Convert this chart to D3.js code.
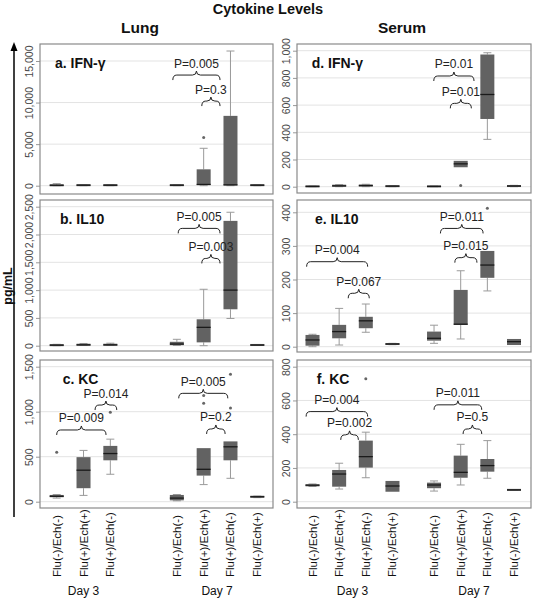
<!DOCTYPE html>
<html><head><meta charset="utf-8">
<script src="https://cdn.jsdelivr.net/npm/d3@7"></script>
<style>
html,body{margin:0;padding:0;background:#fff;}
svg{display:block;font-family:"Liberation Sans",Arial,Helvetica,sans-serif;}
</style></head>
<body><svg id="chart" width="537" height="600"></svg>
<script>
// ---------------- DATA ----------------
const groups = ["Flu(-)/Ech(-)", "Flu(+)/Ech(+)", "Flu(+)/Ech(-)", "Flu(-)/Ech(+)"];
const days = ["Day 3", "Day 7"];
const tissues = ["Lung", "Serum"];

// box stats per group: [min, q1, median, q3, max]; order Day3 g0..g3, Day7 g0..g3 (null = not measured)
const lungIFN = [[0,20,50,80,250],[0,30,60,100,120],[0,30,60,100,120],null,
                 [0,30,60,100,120],[0,80,150,1970,4500],[0,50,100,8400,16200],[0,30,60,100,120]];
const lungIL10 = [[0,5,10,15,25],[5,10,15,25,40],[5,10,15,25,45],null,
                  [5,10,30,70,115],[0,60,330,475,1015],[490,655,1000,2245,2400],[5,8,12,18,22]];
const lungKC = [[40,50,60,75,80],[70,150,350,495,570],[305,460,535,620,695],null,
                [10,15,40,75,80],[190,290,360,595,595],[260,460,610,670,670],[45,50,55,60,62]];
const serumIFN = [[0,1,2,4,5],[0,3,6,12,15],[0,4,8,14,18],[0,2,4,6,8],
                  [0,1,2,4,5],[143,143,168,190,190],[348,498,678,972,985],[0,2,5,8,10]];
const serumIL10 = [[0,3,20,35,37],[5,25,45,65,114],[43,55,77,89,127],[6,7,8,9,10],
                   [10,18,25,45,64],[23,65,67,169,226],[166,205,243,285,285],[5,5,15,23,23]];
const serumKC = [[90,92,98,102,105],[75,89,164,188,228],[142,202,267,362,412],[59,59,93,123,123],
                 [63,80,99,113,123],[99,142,174,273,340],[139,178,214,253,362],[68,69,70,71,72]];

// outliers: [groupIndex (0-7), value]
const lungIFNOut = [[5,5800]];
const lungIL10Out = [];
const lungKCOut = [[0,550],[2,995],[5,1095],[5,1180],[6,1040],[6,1415]];
const serumIFNOut = [[5,8]];
const serumIL10Out = [[6,412]];
const serumKCOut = [[2,728]];

// P-value braces: [label, fromSlot, toSlot, level (data units)]
const lungIFNP = [["P=0.005",4.33,6.09,13310],["P=0.3",5.41,6.09,10180]];
const lungIL10P = [["P=0.005",4.53,6.09,2110],["P=0.003",5.41,6.09,1570]];
const lungKCP = [["P=0.009",0,1.84,797],["P=0.014",1.43,2.24,1074],["P=0.005",4.55,6.38,1204],["P=0.2",5.59,6.28,808]];
const serumIFNP = [["P=0.01",4.55,6.06,814],["P=0.01",5.17,5.96,613]];
const serumIL10P = [["P=0.004",-0.22,2.07,253],["P=0.067",1.34,2.13,159],["P=0.011",4.8,6.4,352],["P=0.015",5.34,6.17,265]];
const serumKCP = [["P=0.004",-0.24,2.07,534],["P=0.002",1.06,1.72,396],["P=0.011",4.56,6.35,574],["P=0.5",5.65,6.35,431]];

// tick values
const ticksIFNLung = [0,5000,10000,15000];
const ticksIL10Lung = [0,500,1000,1500,2000,2500];
const ticksKCLung = [0,500,1000,1500];
const ticksIFNSerum = [0,200,400,600,800,1000];
const ticksIL10Serum = [0,100,200,300,400];
const ticksKCSerum = [0,200,400,600,800];

const titles = ["a. IFN-\u03b3","b. IL10","c. KC","d. IFN-\u03b3","e. IL10","f. KC"];

// ---------------- LAYOUT ----------------
const cols = [
  {left:40, right:273, x0:56.7, x1:257.3, dayOffset:4.48},
  {left:297, right:531, x0:312.5, x1:514, dayOffset:4.56}
];
const panels = [
  {col:0, top:44, bottom:194, y0:185.7, y1:61, data:lungIFN, out:lungIFNOut, p:lungIFNP, ticks:ticksIFNLung, title:titles[0], tx:15},
  {col:0, top:200, bottom:351, y0:345.7, y1:206.7, data:lungIL10, out:lungIL10Out, p:lungIL10P, ticks:ticksIL10Lung, title:titles[1], tx:20},
  {col:0, top:360, bottom:508, y0:501.7, y1:366.7, data:lungKC, out:lungKCOut, p:lungKCP, ticks:ticksKCLung, title:titles[2], tx:22.7},
  {col:1, top:44, bottom:193, y0:186.7, y1:50.7, data:serumIFN, out:serumIFNOut, p:serumIFNP, ticks:ticksIFNSerum, title:titles[3], tx:14.7},
  {col:1, top:200, bottom:352, y0:346.7, y1:212.3, data:serumIL10, out:serumIL10Out, p:serumIL10P, ticks:ticksIL10Serum, title:titles[4], tx:18},
  {col:1, top:360, bottom:508, y0:501.7, y1:366.7, data:serumKC, out:serumKCOut, p:serumKCP, ticks:ticksKCSerum, title:titles[5], tx:19.7}
];

const svg = d3.select("#chart");
const fmt = d3.format(",");
const boxW = 14, capW = 8;

// headers
svg.append("text").attr("x",268).attr("y",14).attr("text-anchor","middle")
  .attr("font-size","14.5px").attr("font-weight","bold").attr("fill","#111").text("Cytokine Levels");
tissues.forEach((t,i)=>{
  svg.append("text").attr("x", i===0?140:402).attr("y",32.5).attr("text-anchor","middle")
    .attr("font-size","15.5px").attr("font-weight","bold").attr("fill","#111").text(t);
});

// y arrow + unit label
svg.append("line").attr("x1",14).attr("x2",14).attr("y1",517).attr("y2",48)
  .attr("stroke","#000").attr("stroke-width",1.5);
svg.append("path").attr("d","M14,42 L10.5,51 L17.5,51 Z").attr("fill","#000");
svg.append("text").attr("transform","translate(11.5,286) rotate(-90)").attr("text-anchor","middle")
  .attr("font-size","12.5px").attr("font-weight","bold").attr("fill","#111").text("pg/mL");

function slotOf(idx, col){ const d = Math.floor(idx/4), g = idx%4; return g + d*col.dayOffset; }

panels.forEach(P=>{
  const C = cols[P.col];
  const x = d3.scaleLinear().domain([0, 3 + C.dayOffset]).range([C.x0, C.x1]);
  const yMax = P.ticks[P.ticks.length-1];
  const y = d3.scaleLinear().domain([0, yMax]).range([P.y0, P.y1]);
  const g = svg.append("g");

  // gridlines
  g.selectAll("line.grid").data(P.ticks).join("line")
    .attr("x1",C.left).attr("x2",C.right).attr("y1",d=>y(d)).attr("y2",d=>y(d))
    .attr("stroke","#e3e3e3").attr("stroke-width",1);

  // axis
  const ax = g.append("g").attr("transform",`translate(${C.left},0)`)
    .call(d3.axisLeft(y).tickValues(P.ticks).tickFormat(fmt).tickSize(4).tickPadding(0));
  ax.select(".domain").remove();
  ax.selectAll(".tick line").attr("stroke","#999");
  ax.selectAll(".tick text").attr("transform","rotate(-90)").attr("x",0).attr("y",-7)
    .attr("dy","0").attr("text-anchor","middle").attr("font-size","10.5px")
    .attr("font-family","'Liberation Sans',Arial,sans-serif").attr("fill","#4a4a4a");

  // frame
  g.append("rect").attr("x",C.left).attr("y",P.top).attr("width",C.right-C.left).attr("height",P.bottom-P.top)
    .attr("fill","none").attr("stroke","#8a8a8a").attr("stroke-width",1.2);

  // title
  g.append("text").attr("x",C.left+P.tx).attr("y",P.top+24).attr("font-size","14px")
    .attr("font-weight","bold").attr("fill","#111").text(P.title);

  // boxes
  const items = P.data.map((s,i)=>({s, i, cx: x(slotOf(i,C))})).filter(d=>d.s);
  const bg = g.selectAll("g.box").data(items).join("g");
  bg.append("line").attr("x1",d=>d.cx).attr("x2",d=>d.cx).attr("y1",d=>y(d.s[4])).attr("y2",d=>y(d.s[3]))
    .attr("stroke","#9a9a9a").attr("stroke-width",1);
  bg.append("line").attr("x1",d=>d.cx).attr("x2",d=>d.cx).attr("y1",d=>y(d.s[1])).attr("y2",d=>y(d.s[0]))
    .attr("stroke","#9a9a9a").attr("stroke-width",1);
  bg.append("line").attr("x1",d=>d.cx-capW/2).attr("x2",d=>d.cx+capW/2).attr("y1",d=>y(d.s[4])).attr("y2",d=>y(d.s[4]))
    .attr("stroke","#9a9a9a").attr("stroke-width",1).attr("display",d=>d.s[4]>d.s[3]?null:"none");
  bg.append("line").attr("x1",d=>d.cx-capW/2).attr("x2",d=>d.cx+capW/2).attr("y1",d=>y(d.s[0])).attr("y2",d=>y(d.s[0]))
    .attr("stroke","#9a9a9a").attr("stroke-width",1).attr("display",d=>d.s[0]<d.s[1]?null:"none");
  bg.append("rect").attr("x",d=>d.cx-boxW/2).attr("width",boxW)
    .attr("y",d=>Math.min(y(d.s[3]), (y(d.s[3])+y(d.s[1]))/2-1))
    .attr("height",d=>Math.max(y(d.s[1])-y(d.s[3]),2))
    .attr("fill","#626262");
  bg.append("line").attr("x1",d=>d.cx-boxW/2).attr("x2",d=>d.cx+boxW/2).attr("y1",d=>y(d.s[2])).attr("y2",d=>y(d.s[2]))
    .attr("stroke","#1a1a1a").attr("stroke-width",1.3);

  // outliers
  g.selectAll("circle.out").data(P.out).join("circle")
    .attr("cx",d=>x(slotOf(d[0],C))).attr("cy",d=>y(d[1])).attr("r",1.5).attr("fill","#666");

  // P-value braces
  P.p.forEach(([lab,a,b,lev])=>{
    const xa = x(a), xb = x(b), yy = y(lev), xm = (xa+xb)/2, r = 4, h = 5, pk = 4;
    const path = `M${xa},${yy+h} Q${xa},${yy} ${xa+r},${yy} L${xm-r},${yy} Q${xm},${yy} ${xm},${yy-pk} Q${xm},${yy} ${xm+r},${yy} L${xb-r},${yy} Q${xb},${yy} ${xb},${yy+h}`;
    g.append("path").attr("d",path).attr("fill","none").attr("stroke","#222").attr("stroke-width",1);
    g.append("text").attr("x",xm).attr("y",yy-7.5).attr("text-anchor","middle")
      .attr("font-size","12px").attr("fill","#222").text(lab);
  });

  // x labels for bottom panels
  if (P.bottom > 500) {
    const labs = P.data.map((s,i)=>({s,i})).filter(d=>d.s);
    g.selectAll("text.xl").data(labs).join("text")
      .attr("transform",d=>`translate(${x(slotOf(d.i,C))+4},577) rotate(-90)`)
      .attr("text-anchor","start").attr("font-size","11.5px").attr("fill","#111")
      .text(d=>groups[d.i%4]);
    days.forEach((dname,di)=>{
      const idx = P.data.map((s,i)=>s && Math.floor(i/4)===di ? i : null).filter(v=>v!==null);
      const xs = idx.map(i=>x(slotOf(i,C)));
      g.append("text").attr("x",(d3.min(xs)+d3.max(xs))/2).attr("y",594.5).attr("text-anchor","middle")
        .attr("font-size","12px").attr("fill","#111").text(dname);
    });
  }
});
</script></body></html>
